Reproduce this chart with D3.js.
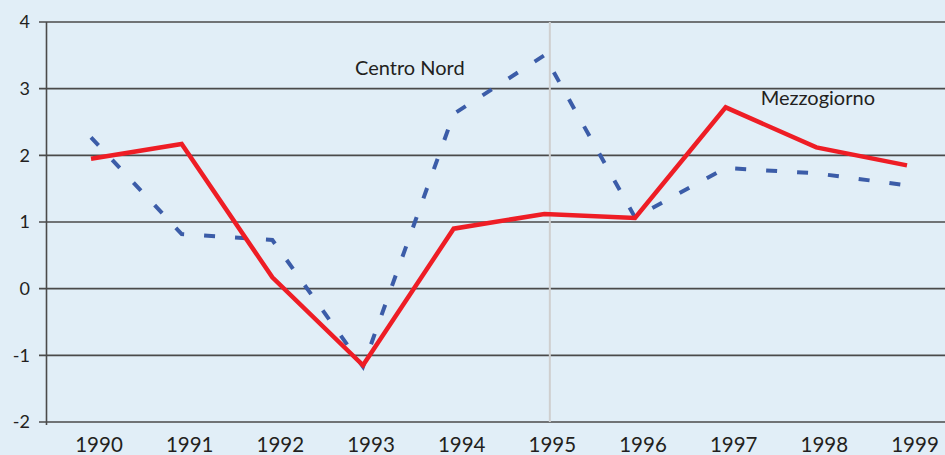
<!DOCTYPE html>
<html>
<head>
<meta charset="utf-8">
<script src="https://cdn.jsdelivr.net/npm/d3@7"></script>
<style>
  body { margin: 0; background: #e1eef7; }
  text { font-family: Lato, "Noto Sans", sans-serif; fill: #231f20; }
</style>
</head>
<body>
<div id="chart"></div>
<script>
var years = [1990, 1991, 1992, 1993, 1994, 1995, 1996, 1997, 1998, 1999];
var centroNord = [2.27, 0.82, 0.73, -1.17, 2.62, 3.5, 1.07, 1.81, 1.73, 1.55];
var mezzogiorno = [1.95, 2.17, 0.17, -1.15, 0.9, 1.12, 1.06, 2.72, 2.12, 1.85];
var yTicks = [-2, -1, 0, 1, 2, 3, 4];

var W = 945, H = 455;
var margin = { top: 22, right: 0, bottom: 33, left: 46.5 };

var svg = d3.select("#chart")
  .append("svg")
    .attr("width", W)
    .attr("height", H);

svg.append("rect")
  .attr("width", W)
  .attr("height", H)
  .attr("fill", "#e1eef7");

var x = d3.scalePoint()
  .domain(years)
  .range([91, 907]);

var y = d3.scaleLinear()
  .domain([-2, 4])
  .range([H - margin.bottom, margin.top]);

// horizontal grid lines + y ticks
svg.append("g")
  .selectAll("line")
  .data(yTicks)
  .enter()
  .append("line")
    .attr("x1", 39)
    .attr("x2", W)
    .attr("y1", function(d) { return y(d) })
    .attr("y2", function(d) { return y(d) })
    .attr("stroke", "#4a4a4a")
    .attr("stroke-width", 1.6);

svg.append("g")
  .selectAll("text")
  .data(yTicks)
  .enter()
  .append("text")
    .attr("x", 30)
    .attr("y", function(d) { return y(d) })
    .attr("dy", "0.35em")
    .attr("text-anchor", "end")
    .style("font-size", "18px")
    .text(function(d) { return d });

// y axis line
svg.append("line")
  .attr("x1", margin.left)
  .attr("x2", margin.left)
  .attr("y1", y(4))
  .attr("y2", y(-2) + 3)
  .attr("stroke", "#4a4a4a")
  .attr("stroke-width", 1.6);

// grey marker at 1995
svg.append("line")
  .attr("x1", x(1995) + 5.5)
  .attr("x2", x(1995) + 5.5)
  .attr("y1", y(4))
  .attr("y2", y(-2))
  .attr("stroke", "#cfcfcf")
  .attr("stroke-width", 2);

// x labels
svg.append("g")
  .selectAll("text")
  .data(years)
  .enter()
  .append("text")
    .attr("x", function(d) { return x(d) + 8 })
    .attr("y", 452)
    .attr("text-anchor", "middle")
    .style("font-size", "20.5px")
    .text(function(d) { return d });

var line = d3.line()
  .x(function(d, i) { return x(years[i]) })
  .y(function(d) { return y(d) });

svg.append("path")
  .datum(centroNord)
  .attr("d", line)
  .attr("fill", "none")
  .attr("stroke", "#3b5ca8")
  .attr("stroke-width", 4)
  .attr("stroke-dasharray", "11,20");

svg.append("path")
  .datum(mezzogiorno)
  .attr("d", line)
  .attr("fill", "none")
  .attr("stroke", "#ee1d25")
  .attr("stroke-width", 4.5);

// series labels
svg.append("text")
  .attr("x", x(1993) - 8)
  .attr("y", y(3.2))
  .style("font-size", "20px")
  .text("Centro Nord");

svg.append("text")
  .attr("x", x(1997) + 35)
  .attr("y", y(2.75))
  .style("font-size", "20px")
  .text("Mezzogiorno");
</script>
</body>
</html>
